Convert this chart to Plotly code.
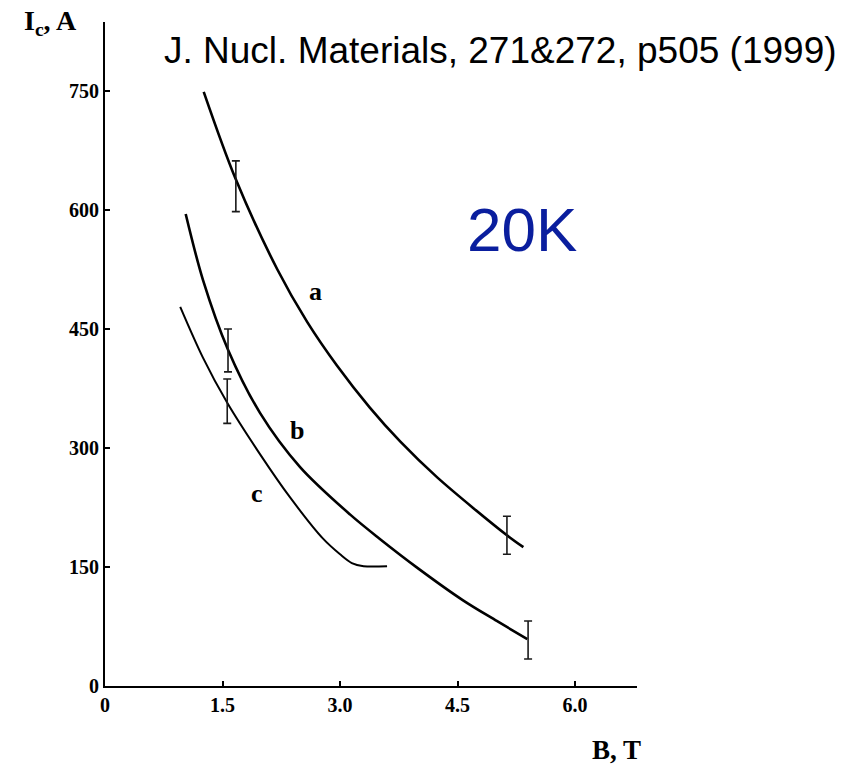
import plotly.graph_objects as go

# Curve data (B in T, Ic in A)
a_B = [1.26, 1.66, 2.20, 2.58, 2.96, 3.38, 3.77, 4.24, 5.13, 5.34]
a_I = [749, 641, 525, 459, 404, 351, 308, 263, 190, 175]
b_B = [1.03, 1.25, 1.57, 1.98, 2.49, 3.13, 3.50, 4.00, 4.57, 5.00, 5.39]
b_I = [595, 512, 424, 344, 276, 216, 186, 148, 108, 82, 59]
c_B = [0.96, 1.25, 1.56, 1.98, 2.36, 2.78, 3.00, 3.15, 3.30, 3.60]
c_I = [478, 414, 357, 292, 238, 186, 166, 155, 151, 151]

# Error bars
err_B = [1.67, 5.13, 1.57, 5.40, 1.56]
err_I = [630, 190, 423, 58, 359]
err_d = [32, 24, 27, 24, 28]

x_ticks = [0, 1.5, 3.0, 4.5, 6.0]
x_ticklabels = ["0", "1.5", "3.0", "4.5", "6.0"]
y_ticks = [0, 150, 300, 450, 600, 750]
y_ticklabels = ["0", "150", "300", "450", "600", "750"]

curve_labels = ["a", "b", "c"]
label_B = [2.69, 2.45, 1.94]
label_I = [497, 322, 243]

fig = go.Figure()
for xs, ys, w in [(a_B, a_I, 2.6), (b_B, b_I, 2.6), (c_B, c_I, 2.0)]:
    fig.add_trace(go.Scatter(x=xs, y=ys, mode="lines",
                             line=dict(color="black", width=w, shape="spline", smoothing=0.9),
                             showlegend=False, hoverinfo="skip"))

fig.add_trace(go.Scatter(x=err_B, y=err_I, mode="markers",
                         marker=dict(size=1, color="rgba(0,0,0,0)"),
                         error_y=dict(type="data", array=err_d, visible=True,
                                      color="#1a1a1a", thickness=1.6, width=4),
                         showlegend=False, hoverinfo="skip"))

for t, bx, iy in zip(curve_labels, label_B, label_I):
    fig.add_annotation(x=bx, y=iy, text="<b>%s</b>" % t, showarrow=False,
                       font=dict(family="Liberation Serif", size=26, color="black"))

fig.add_annotation(xref="paper", yref="paper", x=0.107, y=0.957,
                   xanchor="left", yanchor="middle", showarrow=False,
                   text="J. Nucl. Materials, 271&amp;272, p505 (1999)",
                   font=dict(family="Liberation Sans", size=37, color="black"))
fig.add_annotation(xref="paper", yref="paper", x=0.784, y=0.688,
                   xanchor="center", yanchor="middle", showarrow=False,
                   text="20K", font=dict(family="Liberation Sans", size=62, color="#0A1E9E"))
fig.add_annotation(xref="paper", yref="paper", x=1.011, y=-0.096,
                   xanchor="right", yanchor="middle", showarrow=False,
                   text="<b>B, T</b>", font=dict(family="Liberation Serif", size=27, color="black"))
fig.add_annotation(xref="paper", yref="paper", x=-0.156, y=1.0,
                   xanchor="left", yanchor="middle", showarrow=False,
                   text="<b>I<sub>c</sub>, A</b>", font=dict(family="Liberation Serif", size=28, color="black"))

fig.update_xaxes(range=[0, 6.79], tickvals=x_ticks, ticktext=x_ticklabels,
                 showline=True, linecolor="black", linewidth=2, showgrid=False, zeroline=False,
                 ticks="inside", ticklen=5, tickwidth=1.5, tickcolor="black",
                 tickfont=dict(family="Liberation Serif", size=20, color="black", weight="bold"))
fig.update_yaxes(range=[0, 837], tickvals=y_ticks, ticktext=y_ticklabels,
                 showline=True, linecolor="black", linewidth=2, showgrid=False, zeroline=False,
                 ticks="inside", ticklen=5, tickwidth=1.5, tickcolor="black",
                 tickfont=dict(family="Liberation Serif", size=20, color="black", weight="bold"))
fig.update_layout(width=861, height=766, margin=dict(l=105, r=224, t=22, b=80),
                  plot_bgcolor="white", paper_bgcolor="white",
                  font=dict(family="Liberation Serif"))
fig.write_html("out.html")
